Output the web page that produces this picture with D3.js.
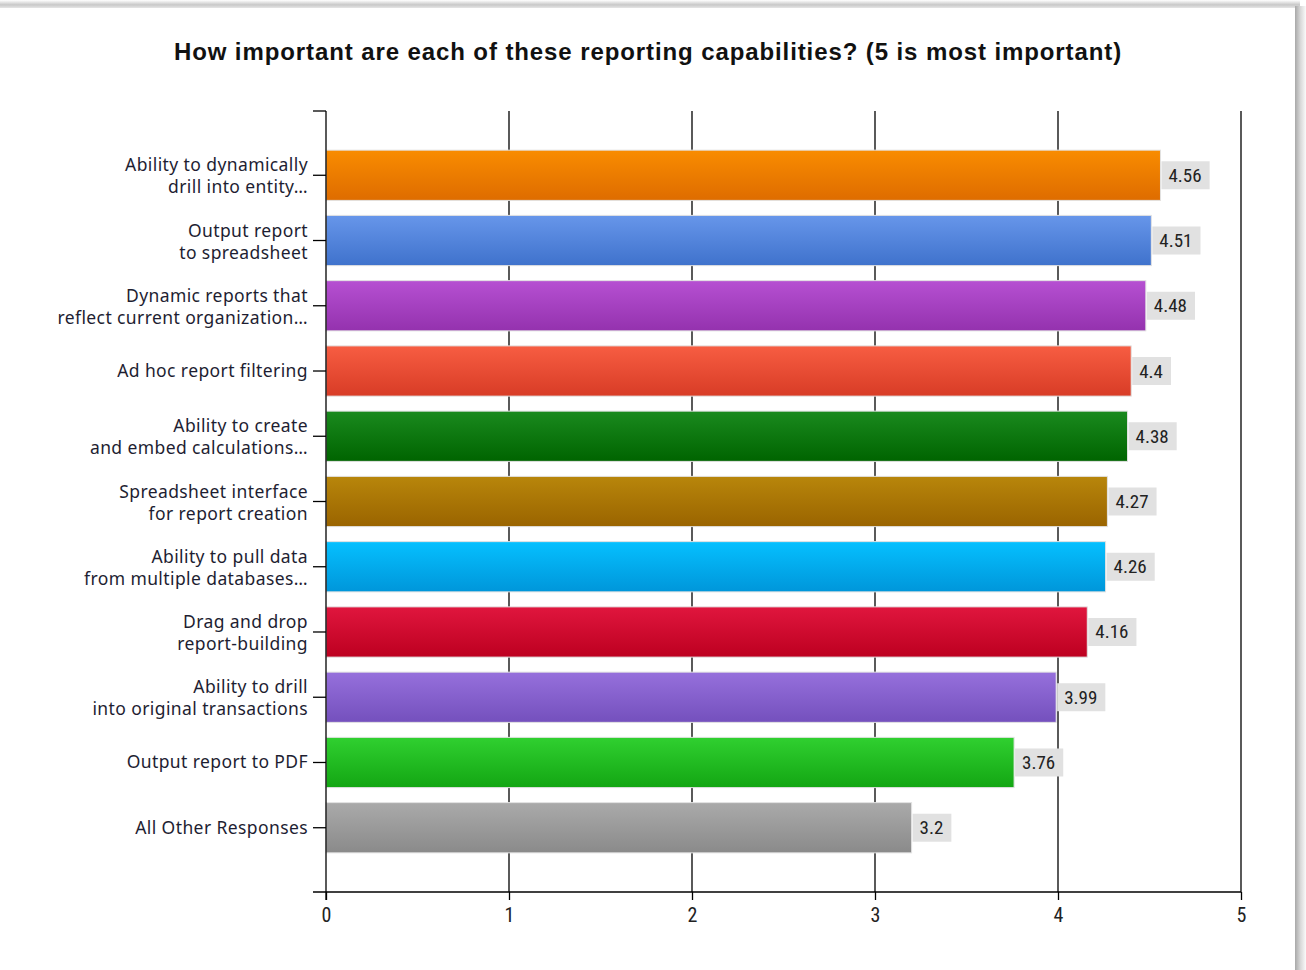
<!DOCTYPE html>
<html>
<head>
<meta charset="utf-8">
<script src="https://cdn.jsdelivr.net/npm/d3@7"></script>
<style>
  html, body { margin: 0; padding: 0; background: #fff; }
  svg { display: block; }
</style>
</head>
<body>
<svg id="chart" width="1306" height="970"></svg>
<script>
// Survey results: mean importance score per reporting capability
const categories = [
  "Ability to dynamically\ndrill into entity…",
  "Output report\nto spreadsheet",
  "Dynamic reports that\nreflect current organization…",
  "Ad hoc report filtering",
  "Ability to create\nand embed calculations…",
  "Spreadsheet interface\nfor report creation",
  "Ability to pull data\nfrom multiple databases…",
  "Drag and drop\nreport-building",
  "Ability to drill\ninto original transactions",
  "Output report to PDF",
  "All Other Responses"
];
const scores = [4.56, 4.51, 4.48, 4.4, 4.38, 4.27, 4.26, 4.16, 3.99, 3.76, 3.2];
const xTicks = [0, 1, 2, 3, 4, 5];
// [top, bottom] gradient stops for each bar
const barColors = [
  ["#f98c00", "#de6c00"],
  ["#6796ea", "#3f72cc"],
  ["#b650d2", "#9432ae"],
  ["#f75d42", "#d83c26"],
  ["#1a8a1e", "#006400"],
  ["#b8860b", "#9a6400"],
  ["#05c0ff", "#0096da"],
  ["#e0163e", "#bd0020"],
  ["#9670dc", "#7450bd"],
  ["#30d030", "#13a613"],
  ["#aaaaaa", "#8a8a8a"]
];
const title = "How important are each of these reporting capabilities? (5 is most important)";

const svg = d3.select("#chart");
const W = 1306, H = 970;
const plot = { left: 326, right: 1241, top: 111, bottom: 892 };

// Panel frame with soft shadow along top and right edges
const defs = svg.append("defs");
const shTop = defs.append("linearGradient").attr("id", "shTop").attr("x1", 0).attr("y1", 0).attr("x2", 0).attr("y2", 1);
shTop.append("stop").attr("offset", "0%").attr("stop-color", "#fff");
shTop.append("stop").attr("offset", "60%").attr("stop-color", "#c8c8c8");
shTop.append("stop").attr("offset", "100%").attr("stop-color", "#e6e6e6");
const shRight = defs.append("linearGradient").attr("id", "shRight").attr("x1", 0).attr("y1", 0).attr("x2", 1).attr("y2", 0);
shRight.append("stop").attr("offset", "0%").attr("stop-color", "#a8a8a8");
shRight.append("stop").attr("offset", "50%").attr("stop-color", "#d8d8d8");
shRight.append("stop").attr("offset", "100%").attr("stop-color", "#fafafa");

svg.append("rect").attr("x", 0).attr("y", 0).attr("width", W).attr("height", H).attr("fill", "#fff");
svg.append("rect").attr("x", 0).attr("y", 0).attr("width", 1300).attr("height", 8).attr("fill", "url(#shTop)");
svg.append("rect").attr("x", 1295).attr("y", 6).attr("width", 11).attr("height", H - 6).attr("fill", "url(#shRight)");

barColors.forEach((c, i) => {
  const g = defs.append("linearGradient").attr("id", "bar" + i)
    .attr("x1", 0).attr("y1", 0).attr("x2", 0).attr("y2", 1);
  g.append("stop").attr("offset", "0%").attr("stop-color", c[0]);
  g.append("stop").attr("offset", "100%").attr("stop-color", c[1]);
});

const x = d3.scaleLinear().domain([0, 5]).range([plot.left, plot.right]);
const y = d3.scaleBand().domain(categories).range([plot.top, plot.bottom])
  .paddingInner(0.23).paddingOuter(0.6);

// Title
svg.append("text")
  .attr("x", 648).attr("y", 60)
  .attr("text-anchor", "middle")
  .attr("font-family", "Liberation Sans, Arial, sans-serif")
  .attr("font-weight", "bold").attr("font-size", 24)
  .attr("letter-spacing", 0.9)
  .attr("fill", "#111")
  .text(title);

// Vertical gridlines
svg.append("g").selectAll("line").data(xTicks.slice(1)).join("line")
  .attr("x1", d => x(d)).attr("x2", d => x(d))
  .attr("y1", plot.top).attr("y2", plot.bottom)
  .attr("stroke", "#000").attr("stroke-width", 1.3);

// Bars
const bars = svg.append("g");
bars.selectAll("rect").data(scores).join("rect")
  .attr("x", x(0))
  .attr("y", (d, i) => y(categories[i]))
  .attr("width", d => x(d) - x(0))
  .attr("height", y.bandwidth())
  .attr("fill", (d, i) => `url(#bar${i})`)
  .attr("stroke", "#e2e2e2").attr("stroke-width", 1);

// Value labels with grey backgrounds
const valFont = "Liberation Sans Narrow, Arial Narrow, Roboto Condensed, Liberation Sans, sans-serif";
const vl = svg.append("g");
scores.forEach((v, i) => {
  const cy = y(categories[i]) + y.bandwidth() / 2;
  const t = vl.append("text")
    .attr("x", x(v) + 8).attr("y", cy + 6.5)
    .attr("font-family", valFont).attr("font-size", 19)
    .attr("fill", "#222")
    .text(String(v));
  const w = t.node().getComputedTextLength();
  vl.insert("rect", "text")
    .attr("x", x(v) + 1).attr("y", cy - 14)
    .attr("width", w + 15).attr("height", 28)
    .attr("fill", "#e1e1e1");
});

// Y axis with category ticks
const yAxis = svg.append("g");
yAxis.append("line")
  .attr("x1", plot.left).attr("x2", plot.left)
  .attr("y1", plot.top).attr("y2", plot.bottom + 8)
  .attr("stroke", "#000").attr("stroke-width", 1.3);
yAxis.append("line")
  .attr("x1", plot.left - 13).attr("x2", plot.left)
  .attr("y1", plot.top).attr("y2", plot.top)
  .attr("stroke", "#000").attr("stroke-width", 1.3);
yAxis.selectAll("line.tick").data(categories).join("line")
  .attr("class", "tick")
  .attr("x1", plot.left - 13).attr("x2", plot.left)
  .attr("y1", d => y(d) + y.bandwidth() / 2).attr("y2", d => y(d) + y.bandwidth() / 2)
  .attr("stroke", "#000").attr("stroke-width", 1.3);

const labelG = yAxis.append("g")
  .attr("font-family", "Noto Sans, Open Sans, sans-serif")
  .attr("font-size", 17.5).attr("letter-spacing", 0.4).attr("fill", "#1e1e32")
  .attr("text-anchor", "end");
categories.forEach(c => {
  const lines = c.split("\n");
  const cy = y(c) + y.bandwidth() / 2;
  const t = labelG.append("text").attr("x", plot.left - 18);
  lines.forEach((ln, k) => {
    const off = lines.length === 1 ? 0 : (k === 0 ? -10 : 12);
    t.append("tspan").attr("x", plot.left - 18).attr("y", cy + off + 6).text(ln);
  });
});

// X axis
const xAxis = svg.append("g").attr("transform", `translate(0,${plot.bottom})`)
  .call(d3.axisBottom(x).tickValues(xTicks).tickSize(8).tickFormat(d3.format("d")));
xAxis.select(".domain").remove();
xAxis.selectAll(".tick line").attr("stroke", "#000").attr("stroke-width", 1.3);
xAxis.selectAll(".tick text")
  .attr("font-family", valFont).attr("font-size", 20).attr("fill", "#222").attr("dy", "0.95em");
svg.append("line")
  .attr("x1", plot.left - 13).attr("x2", plot.right)
  .attr("y1", plot.bottom).attr("y2", plot.bottom)
  .attr("stroke", "#000").attr("stroke-width", 1.6);
</script>
</body>
</html>
